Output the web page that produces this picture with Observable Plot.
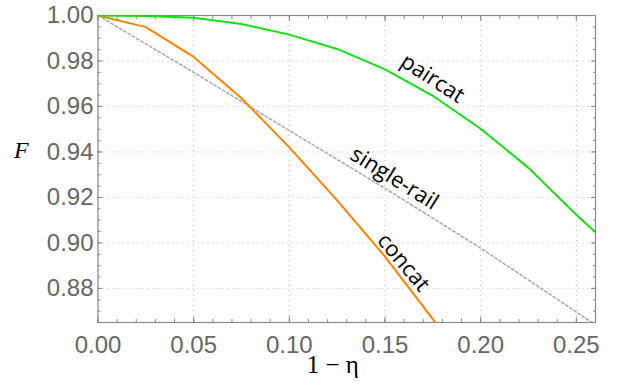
<!DOCTYPE html>
<html>
<head>
<meta charset="utf-8">
<script src="https://cdn.jsdelivr.net/npm/d3@7"></script>
<script src="https://cdn.jsdelivr.net/npm/@observablehq/plot@0.6"></script>
<style>
  html, body { margin: 0; padding: 0; background: #fff; }
  #chart svg { display: block; background: #fff; overflow: visible; }
</style>
</head>
<body>
<div id="chart"></div>
<script>
// Data
const singleRailX = [0, 0.05, 0.10, 0.15, 0.20, 0.25, 0.26];
const singleRailF = [1.000, 0.975, 0.9494, 0.924, 0.8977, 0.8696, 0.864];

const concatX = [0, 0.025, 0.05, 0.075, 0.10, 0.125, 0.15, 0.175, 0.20];
const concatF = [1.000, 0.9949, 0.9818, 0.9636, 0.942, 0.9187, 0.894, 0.8665, 0.838];

const paircatX = [0, 0.025, 0.05, 0.075, 0.10, 0.125, 0.15, 0.175, 0.20, 0.225, 0.25, 0.26];
const paircatF = [1.000, 0.9998, 0.999, 0.9963, 0.9916, 0.9853, 0.9763, 0.9647, 0.9502, 0.933, 0.9124, 0.9047];

const xTicks = [0, 0.05, 0.10, 0.15, 0.20, 0.25];
const yTicks = [0.88, 0.90, 0.92, 0.94, 0.96, 0.98, 1.00];
const xMinor = d3.range(0, 0.2601, 0.01);
const yMinor = d3.range(0.865, 1.0001, 0.005);

const curveLabels = ["paircat", "single-rail", "concat"];
const labelX = [0.1748, 0.1549, 0.1596];
const labelF = [0.9723, 0.9284, 0.8914];
const labelAngle = [33, 32, 50];

const xTitle = "1 − η";
const yTitle = "F";

const toRows = (xs, ys) => xs.map((x, i) => ({x, y: ys[i]}));
const singleRail = toRows(singleRailX, singleRailF);
const concat = toRows(concatX, concatF);
const paircat = toRows(paircatX, paircatF);
const labels = curveLabels.map((t, i) => ({t, x: labelX[i], y: labelF[i], r: labelAngle[i]}));

const axisColor = "#8a8a8a";
const tickFont = {fontFamily: "Liberation Sans, Arial, sans-serif", fontSize: 24, fill: "#666"};

const chart = Plot.plot({
  width: 625,
  height: 387,
  marginLeft: 97.5,
  marginRight: 30,
  marginTop: 15,
  marginBottom: 65,
  style: {fontFamily: "Liberation Sans, Arial, sans-serif", background: "#fff"},
  x: {domain: [0, 0.26]},
  y: {domain: [0.865, 1.0]},
  marks: [
    Plot.gridX(xTicks, {stroke: "#b8b8b8", strokeOpacity: 1, strokeDasharray: "1,4"}),
    Plot.gridY(yTicks, {stroke: "#b8b8b8", strokeOpacity: 1, strokeDasharray: "1,4"}),
    // minor ticks (inward) on all sides
    Plot.axisX(xMinor, {anchor: "bottom", tickSize: -3, text: null, stroke: axisColor, label: null}),
    Plot.axisX(xMinor, {anchor: "top", tickSize: -3, text: null, stroke: axisColor, label: null}),
    Plot.axisY(yMinor, {anchor: "left", tickSize: -3, text: null, stroke: axisColor, label: null}),
    Plot.axisY(yMinor, {anchor: "right", tickSize: -3, text: null, stroke: axisColor, label: null}),
    // major ticks
    Plot.axisX(xTicks, {anchor: "bottom", tickSize: -5, text: null, stroke: axisColor, label: null}),
    Plot.axisX(xTicks, {anchor: "top", tickSize: -5, text: null, stroke: axisColor, label: null}),
    Plot.axisY(yTicks, {anchor: "left", tickSize: -5, text: null, stroke: axisColor, label: null}),
    Plot.axisY(yTicks, {anchor: "right", tickSize: -5, text: null, stroke: axisColor, label: null}),
    // tick labels
    Plot.axisX(xTicks, {anchor: "bottom", tickSize: 0, tickPadding: 13, tickFormat: d3.format(".2f"), label: null, ...tickFont}),
    Plot.axisY(yTicks, {anchor: "left", tickSize: 0, tickPadding: 4.5, tickFormat: d3.format(".2f"), label: null, ...tickFont}),
    Plot.frame({stroke: axisColor, strokeWidth: 1.2}),
    // curves
    Plot.line(singleRail, {x: "x", y: "y", stroke: "#aaaaaa", strokeWidth: 1.6, strokeDasharray: "2.5,2.5", clip: true}),
    Plot.line(concat, {x: "x", y: "y", stroke: "#ff8000", strokeWidth: 2, clip: true}),
    Plot.line(paircat, {x: "x", y: "y", stroke: "#11e011", strokeWidth: 2, clip: true}),
    // curve labels
    Plot.text(labels, {x: "x", y: "y", text: "t", rotate: "r", fontFamily: "Open Sans, sans-serif", fontSize: 22, fill: "#000"}),
    // axis titles
    Plot.text([yTitle], {frameAnchor: "left", y: [0.94], text: d => d, dx: -84, dy: -2, fontFamily: "Liberation Serif, Times New Roman, serif", fontStyle: "italic", fontSize: 24, fill: "#000"}),
    Plot.text([xTitle], {frameAnchor: "bottom", text: d => d, dx: -14, dy: 50, fontFamily: "Liberation Serif, Times New Roman, serif", fontSize: 25, fill: "#000"})
  ]
});
document.getElementById("chart").appendChild(chart);
</script>
</body>
</html>
